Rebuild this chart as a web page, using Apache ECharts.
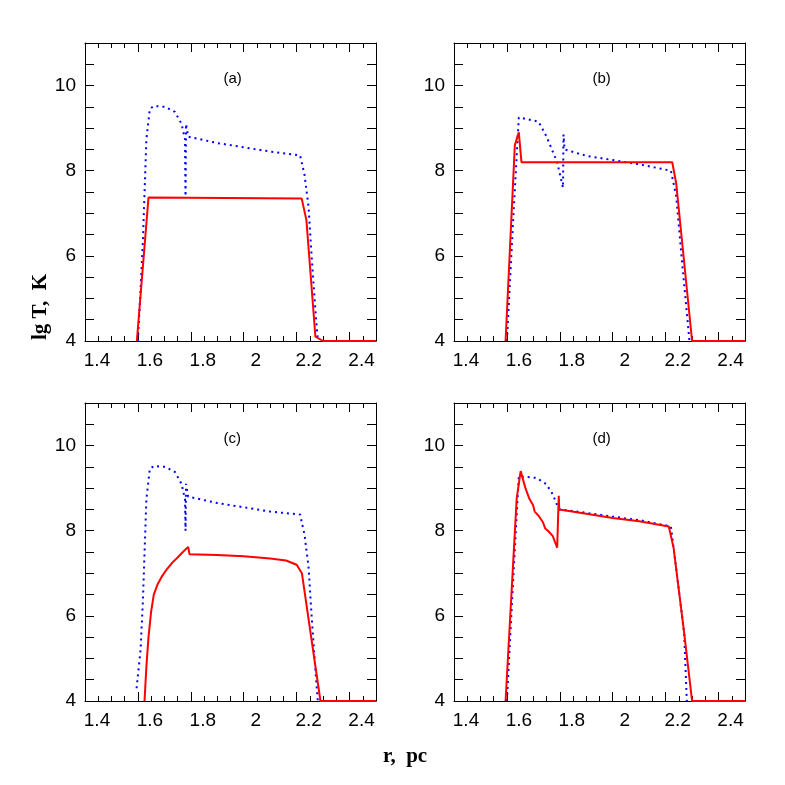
<!DOCTYPE html>
<html><head><meta charset="utf-8">
<script src="https://cdn.jsdelivr.net/npm/echarts@6/dist/echarts.min.js"></script>
<style>html,body{margin:0;background:#fff}#c{width:785px;height:785px}</style>
</head><body><div id="c"></div>
<script>
const panelLabels = ['(a)','(b)','(c)','(d)'];
const redA = [[1.596,4],[1.64,7.37],[2.219,7.35],[2.237,6.84],[2.271,4.1],[2.3,4],[2.5,4]];
const blueA = [[1.6,4],[1.61,5.2],[1.619,6.37],[1.632,8.74],[1.645,9.45],[1.66,9.52],[1.703,9.5],[1.74,9.38],[1.765,9.1],[1.778,8.74],[1.78,7.4],[1.782,9.1],[1.79,8.8],[1.9,8.65],[2.0,8.55],[2.1,8.45],[2.213,8.36],[2.23,7.9],[2.245,7.15],[2.257,5.96],[2.27,4.8],[2.28,4]];
const redB = [[1.595,4],[1.63,8.6],[1.645,8.9],[1.655,8.2],[2.225,8.2],[2.24,7.7],[2.3,4],[2.5,4]];
const blueB = [[1.6,4],[1.625,7],[1.645,9.25],[1.7,9.18],[1.72,9.15],[1.75,8.8],[1.79,8.2],[1.812,7.6],[1.814,8.85],[1.818,8.5],[1.9,8.35],[2.0,8.25],[2.1,8.15],[2.22,8.0],[2.24,7.4],[2.26,6.0],[2.29,4]];
const redC = [[1.625,4],[1.632,4.8],[1.64,5.5],[1.65,6.1],[1.66,6.5],[1.675,6.75],[1.69,6.92],[1.71,7.1],[1.73,7.25],[1.75,7.37],[1.77,7.5],[1.79,7.62],[1.795,7.45],[1.9,7.43],[2.0,7.4],[2.1,7.35],[2.16,7.3],[2.2,7.2],[2.22,7.0],[2.29,4],[2.5,4]];
const blueC = [[1.595,4.3],[1.61,5.2],[1.619,6.37],[1.632,8.74],[1.645,9.45],[1.66,9.52],[1.703,9.5],[1.74,9.38],[1.765,9.1],[1.778,8.74],[1.78,8.0],[1.782,9.1],[1.79,8.8],[1.9,8.65],[2.0,8.55],[2.1,8.45],[2.213,8.38],[2.23,7.9],[2.245,7.15],[2.257,5.96],[2.27,4.8],[2.28,4]];
const redD = [[1.595,4],[1.637,8.76],[1.652,9.4],[1.67,9.0],[1.685,8.75],[1.699,8.6],[1.705,8.45],[1.72,8.35],[1.736,8.2],[1.745,8.05],[1.755,8.0],[1.773,7.88],[1.79,7.6],[1.796,8.82],[1.798,8.5],[1.9,8.4],[2.0,8.3],[2.1,8.22],[2.212,8.1],[2.23,7.6],[2.27,5.6],[2.3,4],[2.5,4]];
const blueD = [[1.6,4],[1.625,7],[1.645,9.28],[1.711,9.24],[1.748,9.1],[1.773,8.86],[1.79,8.6],[1.8,8.5],[1.9,8.42],[2.0,8.33],[2.1,8.25],[2.22,8.1],[2.27,5.6],[2.28,4]];
const reds=[redA,redB,redC,redD], blues=[blueA,blueB,blueC,blueD];
const grids=[{left:85,top:43,width:291,height:298},{left:454,top:43,width:291,height:298},{left:85,top:403,width:291,height:298},{left:454,top:403,width:291,height:298}];
const xA=[],yA=[],series=[],titles=[];
grids.forEach((g,i)=>{
  const base={type:'value',min:1.4,max:2.5,interval:0.2,gridIndex:i,splitLine:{show:false},
    axisLine:{lineStyle:{color:'#000',width:1}},axisTick:{inside:true,length:9,lineStyle:{color:'#000'}},
    minorTick:{show:true,splitNumber:4,length:5,lineStyle:{color:'#000'}}};
  xA.push(Object.assign({},base,{position:'bottom',axisLabel:{color:'#000',fontSize:19,fontFamily:'Liberation Sans',margin:10,padding:[0,0,0,24],showMaxLabel:false,formatter:v=>String(+v.toFixed(1))}}));
  xA.push(Object.assign({},base,{position:'top',axisLabel:{show:false}}));
  const yb={type:'value',min:4,max:11,interval:0.5,gridIndex:i,splitLine:{show:false},
    axisLine:{show:true,lineStyle:{color:'#000',width:1}},axisTick:{inside:true,length:9,lineStyle:{color:'#000'}}};
  yA.push(Object.assign({},yb,{position:'left',axisLabel:{color:'#000',fontSize:19,fontFamily:'Liberation Sans',margin:9,formatter:v=>(v%2===0&&v<11)?String(v):''}}));
  yA.push(Object.assign({},yb,{position:'right',axisLabel:{show:false}}));
  series.push({type:'line',xAxisIndex:2*i,yAxisIndex:2*i,data:blues[i],showSymbol:false,symbol:'none',lineStyle:{color:'#0000ff',width:2,type:[2,4]},z:2});
  series.push({type:'line',xAxisIndex:2*i,yAxisIndex:2*i,data:reds[i],showSymbol:false,symbol:'none',lineStyle:{color:'#ff0000',width:2},z:3});
  titles.push({text:panelLabels[i],left:g.left+g.width/2-12,top:g.top+23,textStyle:{fontSize:15,fontWeight:'normal',color:'#000',fontFamily:'Liberation Sans'}});
});
const chart=echarts.init(document.getElementById('c'));
chart.setOption({animation:false,title:titles,grid:grids,xAxis:xA,yAxis:yA,series:series,
 graphic:[
  {type:'text',left:383,top:746,style:{text:'r,  pc',font:'bold 21px "Liberation Serif"',fill:'#000'}},
  {type:'text',x:30,y:340,rotation:Math.PI/2,style:{text:'lg T,  K',font:'bold 21px "Liberation Serif"',fill:'#000'}}
 ]});
</script></body></html>
